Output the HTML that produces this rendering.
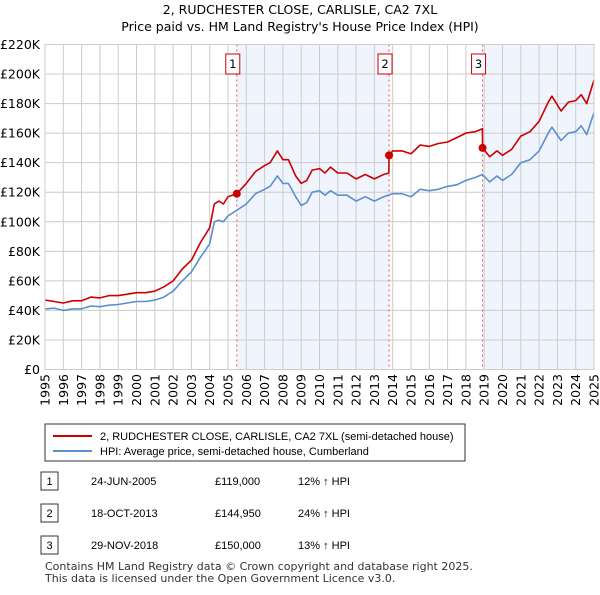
<!DOCTYPE html>
<html><head><meta charset="utf-8"><style>
body{margin:0;background:#fff;font-family:"Liberation Sans",sans-serif;}
svg text{font-family:"Liberation Sans",sans-serif;}
svg text.dj{font-family:"DejaVu Sans","Liberation Sans",sans-serif;}
</style></head><body>
<svg id="chart" width="600" height="590" xmlns="http://www.w3.org/2000/svg">
<text class="dj" x="300" y="14" text-anchor="middle" font-size="12.5">2, RUDCHESTER CLOSE, CARLISLE, CA2 7XL</text>
<text class="dj" x="300" y="31" text-anchor="middle" font-size="12.5">Price paid vs. HM Land Registry's House Price Index (HPI)</text>
<g id="plot"></g>
<g>
<rect x="45" y="424" width="420" height="37" fill="#fff" stroke="#333"/>
<line x1="53" y1="436" x2="92" y2="436" stroke="#cc0000" stroke-width="2"/>
<text x="100" y="440" font-size="11">2, RUDCHESTER CLOSE, CARLISLE, CA2 7XL (semi-detached house)</text>
<line x1="53" y1="451" x2="92" y2="451" stroke="#5b8fd0" stroke-width="2"/>
<text x="100" y="455" font-size="11">HPI: Average price, semi-detached house, Cumberland</text>
</g>
<g font-size="11">
<rect x="41" y="472" width="17" height="18" fill="#fff" stroke="#333"/><text x="49.5" y="485" text-anchor="middle">1</text>
<text x="91" y="485">24-JUN-2005</text><text x="215" y="485">£119,000</text><text x="298" y="485">12% ↑ HPI</text>
<rect x="41" y="504" width="17" height="18" fill="#fff" stroke="#333"/><text x="49.5" y="517" text-anchor="middle">2</text>
<text x="91" y="517">18-OCT-2013</text><text x="215" y="517">£144,950</text><text x="298" y="517">24% ↑ HPI</text>
<rect x="41" y="536" width="17" height="18" fill="#fff" stroke="#333"/><text x="49.5" y="549" text-anchor="middle">3</text>
<text x="91" y="549">29-NOV-2018</text><text x="215" y="549">£150,000</text><text x="298" y="549">13% ↑ HPI</text>
</g>
<text class="dj" x="45" y="570" font-size="11" fill="#333">Contains HM Land Registry data © Crown copyright and database right 2025.</text>
<text class="dj" x="45" y="582" font-size="11" fill="#333">This data is licensed under the Open Government Licence v3.0.</text>
</svg>
<script>
const yTicks=[0,20000,40000,60000,80000,100000,120000,140000,160000,180000,200000,220000];
const yTickLabels=["£0","£20K","£40K","£60K","£80K","£100K","£120K","£140K","£160K","£180K","£200K","£220K"];
const xYears=[1995,1996,1997,1998,1999,2000,2001,2002,2003,2004,2005,2006,2007,2008,2009,2010,2011,2012,2013,2014,2015,2016,2017,2018,2019,2020,2021,2022,2023,2024,2025];
const hpiDates=[1995,1995.5,1996,1996.5,1997,1997.5,1998,1998.5,1999,1999.5,2000,2000.5,2001,2001.5,2002,2002.5,2003,2003.5,2004,2004.25,2004.5,2004.75,2005,2005.5,2006,2006.5,2007,2007.3,2007.7,2008,2008.3,2008.7,2009,2009.3,2009.6,2010,2010.3,2010.6,2011,2011.5,2012,2012.5,2013,2013.5,2014,2014.5,2015,2015.5,2016,2016.5,2017,2017.5,2018,2018.5,2018.9,2019.3,2019.7,2020,2020.5,2021,2021.5,2022,2022.5,2022.7,2023.2,2023.6,2024,2024.3,2024.6,2025];
const hpiValues=[41,41.5,40,41,41,43,42.5,43.5,44,45,46,46,47,49,53,60,66,76,85,100,101,100,104,108,112,119,122,124,131,126,126,117,111,113,120,121,118,121,118,118,114,117,114,117,119,119,117,122,121,122,124,125,128,130,132,127,131,128,132,140,142,148,160,164,155,160,161,165,159,174];
const priceDates=[1995,1995.5,1996,1996.5,1997,1997.5,1998,1998.5,1999,1999.5,2000,2000.5,2001,2001.5,2002,2002.5,2003,2003.5,2004,2004.25,2004.5,2004.75,2005,2005.48,2006,2006.5,2007,2007.3,2007.7,2008,2008.3,2008.7,2009,2009.3,2009.6,2010,2010.3,2010.6,2011,2011.5,2012,2012.5,2013,2013.5,2013.79,2013.8,2014,2014.5,2015,2015.5,2016,2016.5,2017,2017.5,2018,2018.5,2018.9,2018.91,2019.3,2019.7,2020,2020.5,2021,2021.5,2022,2022.5,2022.7,2023.2,2023.6,2024,2024.3,2024.6,2025];
const priceValues=[47,46,45,46.5,46.5,49,48.5,50,50,51,52,52,53,56,60,68,74,86,96,112,114,112,117,119,126,134,138,140,148,142,142,131,126,128,135,136,133,137,133,133,129,132,129,132,133,144.95,148,148,146,152,151,153,154,157,160,161,163,150,144,148,145,149,158,161,168,181,185,175,181,182,186,180,196];
const saleDates=[2005.48,2013.8,2018.91];
const salePrices=[119000,144950,150000];
const saleLabels=["1","2","3"];

const NS="http://www.w3.org/2000/svg";
const X0=45,X1=594,Y0=369.5,Y1=44.5;
const xs=t=>X0+(t-1995)/(2025-1995)*(X1-X0);
const ys=v=>Y0-v/220000*(Y0-Y1);
const plot=document.getElementById('plot');
function mk(tag,attrs){const e=document.createElementNS(NS,tag);for(const k in attrs)e.setAttribute(k,attrs[k]);plot.appendChild(e);return e;}
let s1=mk('rect',{x:xs(saleDates[0]),y:Y1,width:xs(saleDates[1])-xs(saleDates[0]),height:Y0-Y1,fill:'#f0f4fd'});


let s2=mk('rect',{x:xs(saleDates[2]),y:Y1,width:X1-xs(saleDates[2]),height:Y0-Y1,fill:'#f0f4fd'});


yTicks.forEach((v,i)=>{
 const l=mk('line',{x1:X0,x2:X1,y1:ys(v),y2:ys(v),stroke:'#cccccc'});
 
 
 const t=mk('text',{x:40,y:ys(v)+4.5,'text-anchor':'end','font-size':12.5,'class':'dj'});
 t.textContent=yTickLabels[i];
 
 
});
xYears.forEach(yr=>{
 const l=mk('line',{x1:xs(yr),x2:xs(yr),y1:Y1,y2:Y0,stroke:'#cccccc'});
 
 
 const x=xs(yr)+4.5,y=374;
 const t=mk('text',{x:x,y:y,'text-anchor':'end','font-size':12.5,'class':'dj',transform:'rotate(-90 '+x+' '+y+')'});
 t.textContent=yr;
 
 
});
saleDates.forEach((d,i)=>{
 const l=mk('line',{x1:xs(d),x2:xs(d),y1:Y1,y2:Y0,stroke:'#ee5555','stroke-dasharray':'2,3'});
 
 
 const r=mk('rect',{x:xs(d)-11,y:54,width:14,height:20,fill:'#fff',stroke:'#cc0000'});
 
 
 const t=mk('text',{x:xs(d)-4,y:68,'text-anchor':'middle','font-size':11.5,'class':'dj'});
 t.textContent=saleLabels[i];
 
 
});
function line(dates,vals,color,name){
 const d=dates.map((t,i)=>(i?'L':'M')+xs(t).toFixed(1)+','+ys(vals[i]*1000).toFixed(1)).join('');
 const p=mk('path',{d:d,fill:'none',stroke:color,'stroke-width':1.6,'stroke-linejoin':'round'});
 
 
}
line(hpiDates,hpiValues,'#5b8fd0','hpi-line');
line(priceDates,priceValues,'#cc0000','property-price-line');
saleDates.forEach((d,i)=>{
 const c=mk('circle',{cx:xs(d),cy:ys(salePrices[i]),r:4,fill:'#cc0000'});
 
 
});
const ax=mk('rect',{x:X0,y:Y1,width:X1-X0,height:Y0-Y1,fill:'none',stroke:'#cccccc'});


</script>
</body></html>
